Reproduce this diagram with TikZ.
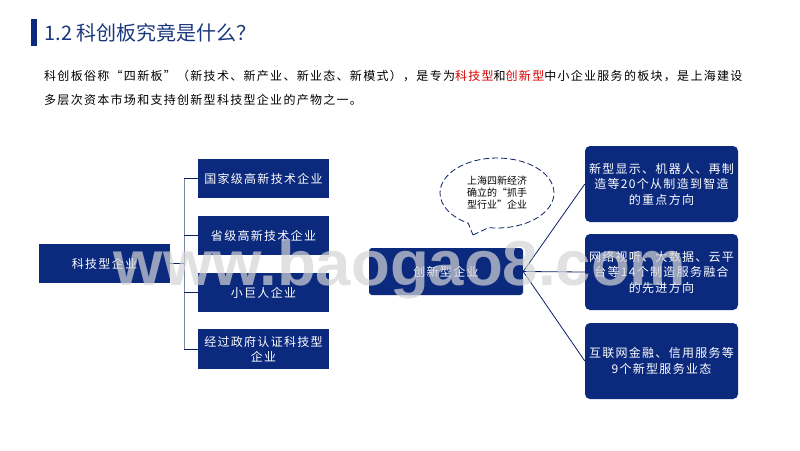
\documentclass[tikz,border=0pt]{standalone}
\usepackage{fontspec}
\usetikzlibrary{shapes.callouts}
\setmainfont{Noto Sans CJK SC}
\newfontfamily\spaced[LetterSpace=10.8]{Noto Sans CJK SC}
\newfontfamily\markfont{Liberation Sans}
\definecolor{navy}{RGB}{11,41,125}
\definecolor{titleblue}{RGB}{25,55,125}
\definecolor{busgray}{RGB}{125,135,165}
\definecolor{markgray}{RGB}{212,212,214}

\begin{document}
\begin{tikzpicture}[x=1pt,y=-1pt]

\tikzset{sqbox/.style={fill=navy, text=white, inner sep=0pt, align=center, font=\fontsize{12}{15.5}\spaced},
rdbox/.style={sqbox, rounded corners=5pt, minimum width=153pt, minimum height=76pt},
link/.style={line width=0.8pt, navy!80!black},
buslink/.style={line width=0.9pt, busgray}}

\useasboundingbox (0,0) rectangle (800,450);

% heading
\fill [navy] (31,19) rectangle (37,46);
\node (title) [anchor=west, text=titleblue, font=\fontsize{20}{22}\selectfont] at (41,33) {1.2 科创板究竟是什么？};

\node (introa) [anchor=west, inner sep=0pt, font=\fontsize{12}{16}\spaced] at (44,76) {科创板俗称“四新板”（新技术、新产业、新业态、新模式），是专为\textcolor{red!85!black}{科技型}和\textcolor{red!85!black}{创新型}中小企业服务的板块，是上海建设};
\node (introb) [anchor=west, inner sep=0pt, font=\fontsize{12}{16}\spaced] at (44,100) {多层次资本市场和支持创新型科技型企业的产物之一。};

% left tree
\node (tech) [sqbox, minimum width=131pt, minimum height=39pt] at (104.5,263.5) {科技型企业};
\node (guojia) [sqbox, minimum width=131pt, minimum height=39pt] at (263.5,178.5) {国家级高新技术企业};
\node (sheng) [sqbox, minimum width=131pt, minimum height=39pt] at (263.5,235.5) {省级高新技术企业};
\node (xiaoju) [sqbox, minimum width=131pt, minimum height=39pt] at (263.5,292.5) {小巨人企业};
\node (renzheng) [sqbox, minimum width=131pt, minimum height=40pt] at (263.5,349) {经过政府认证科技型\\企业};

\coordinate (bus) at (184,263.5);
\foreach \leaf in {guojia,sheng,xiaoju,renzheng}
  \draw [buslink] (bus) |- (\leaf.west);
\foreach \leaf in {guojia,sheng,xiaoju,renzheng}
  \draw [link] (bus |- \leaf.west) -- (\leaf.west);
\draw [link] (tech.east) -- (bus);

% right fan
\node (innov) [sqbox, rounded corners=3pt, minimum width=154pt, minimum height=47pt] at (446,271.5) {创新型企业};
\node (display) [rdbox] at (661.5,184) {新型显示、机器人、再制\\造等20个从制造到智造\\的重点方向};
\node (network) [rdbox] at (661.5,272) {网络视听、大数据、云平\\台等14个制造服务融合\\的先进方向};
\node (finance) [rdbox] at (661.5,361) {互联网金融、信用服务等\\9个新型服务业态};

\foreach \leaf in {display,network,finance}
  \draw [link] (innov.east) -- (\leaf.west);

% speech bubble
\node (bubble) [ellipse callout, draw=navy!80!black, dash pattern=on 6pt off 3pt, line width=0.8pt, fill=white, minimum width=114pt, minimum height=70pt, inner sep=0pt, align=center, font=\fontsize{10}{12}\selectfont, callout pointer arc=22, callout absolute pointer={(473,235)}] at (497,193) {上海四新经济\\确立的“抓手\\型行业”企业};

% watermark
\node (mark) [anchor=base, text=markgray, opacity=0.7, inner sep=0pt, font=\fontsize{63.5}{70}\markfont\bfseries] at (400,285) {www.baogao8.com};

\end{tikzpicture}
\end{document}
